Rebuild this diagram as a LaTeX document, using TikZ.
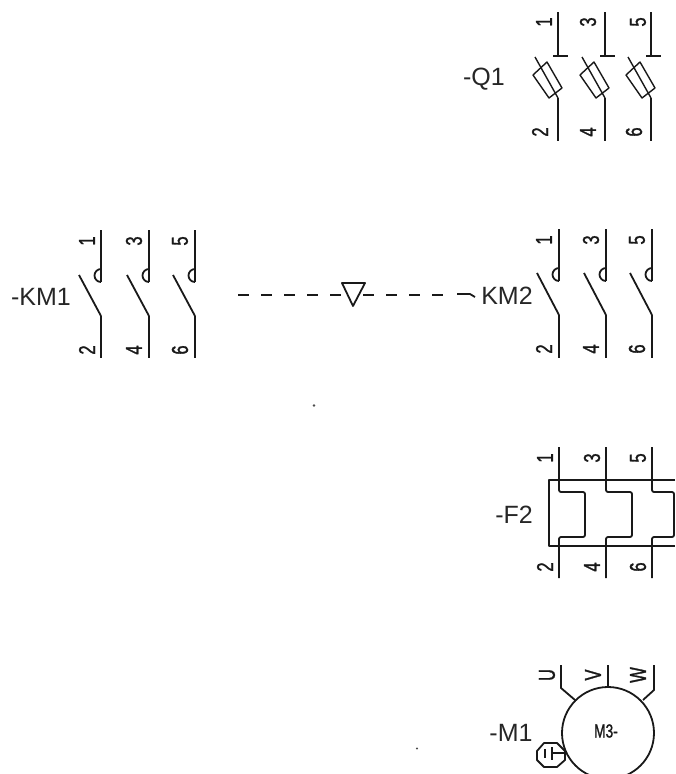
\documentclass[tikz,border=0pt]{standalone}
\usepackage{fontspec}
\setmainfont{Liberation Sans}
\newfontfamily\digitfont[FakeStretch=0.72,FakeBold=1.2]{Liberation Sans}
\tikzset{
  wire/.style={line width=1.8pt,black!90,line join=round},
  thin wire/.style={line width=1.4pt,black!90,line join=round},
  lab/.style={inner sep=0pt,font=\fontsize{25}{25}\selectfont,black!85},
  dig/.style={inner sep=0pt,rotate=90,font=\digitfont\fontsize{23}{23}\selectfont,black!90},
}
\begin{document}
\begin{tikzpicture}[x=1pt,y=-1pt]
\useasboundingbox (0,0) rectangle (675,774);
% Q1
\node[lab] (q1) at (484,79) {-Q1};
\foreach \n/\x/\t/\b/\tx/\bx in {a/558/1/2/544/540,b/605/3/4/588/588,c/651/5/6/638/634}{
  \node[dig] (q1t\n) at (\tx,22) {\t};
  \node[dig] (q1b\n) at (\bx,132) {\b};
  \draw[wire] (\x,12) -- (\x,56);
  \draw[wire] (\x-5,56) -- (\x+10,56);
  \draw[wire] (\x,98) -- (\x,141);
  \begin{scope}[xshift=\x pt-558pt]
    \draw[thin wire] (533,75) -- (547,62) -- (562,88) -- (549,98) -- cycle;
    \draw[thin wire] (535,57) -- (558,98);
  \end{scope}
}
% KM1
\node[lab] (km1) at (41,297) {-KM1};
\foreach \n/\x/\t/\b/\tx in {a/101/1/2/87,b/149/3/4/134,c/195/5/6/180}{
  \node[dig] (km1t\n) at (\tx,241) {\t};
  \node[dig] (km1b\n) at (\tx,350) {\b};
  \draw[wire] (\x,230) -- (\x,282);
  \draw[wire] (\x,269) arc[start angle=90,end angle=270,radius=6.5pt] -- (\x,282);
  \draw[wire] (\x,316) -- (\x,358);
  \draw[wire] (\x-22,275) -- (\x,316);
}
% KM2
\node[lab] (km2) at (507,296) {KM2};
\foreach \n/\x/\t/\b/\tx in {a/559/1/2/544,b/606/3/4/591,c/652/5/6/637}{
  \node[dig] (km2t\n) at (\tx,240) {\t};
  \node[dig] (km2b\n) at (\tx,349) {\b};
  \draw[wire] (\x,229) -- (\x,281);
  \draw[wire] (\x,268) arc[start angle=90,end angle=270,radius=6.5pt] -- (\x,281);
  \draw[wire] (\x,315) -- (\x,358);
  \draw[wire] (\x-22,273) -- (\x,315);
}
% mechanical link
\draw[wire,dash pattern=on 11pt off 12pt] (238,295) -- (342,295);
\draw[wire,dash pattern=on 11pt off 12pt] (363,295) -- (444,295);
\draw[wire] (457,294) -- (470,294) -- (475,297);
\draw[wire] (342,283) -- (365,283) -- (353,306) -- cycle;
\fill[black!70] (314,405.5) circle[radius=1.3pt];
% F2
\node[lab] (f2) at (514,515) {-F2};
\draw[wire] (675,480) -- (549,480) -- (549,546) -- (675,546);
\foreach \n/\x/\r/\t/\b/\tx in {a/559/585/1/2/545,b/606/632/3/4/592,c/652/674/5/6/638}{
  \node[dig] (f2t\n) at (\tx,458) {\t};
  \node[dig] (f2b\n) at (\tx,567) {\b};
  \draw[wire,rounded corners=2pt] (\x,447) -- (\x,492) -- (\r,492) -- (\r,537) -- (\x,537) -- (\x,578);
}
% M1
\node[lab] (m1) at (511,733) {-M1};
\draw[wire] (608,733) circle[radius=46pt];
\node[inner sep=0pt,font=\digitfont\fontsize{19}{19}\selectfont,black!90] (m3) at (606,731) {M3-};
\node[dig] (mu) at (547,675) {U};
\node[dig] (mv) at (593,675) {V};
\node[dig] (mw) at (638,675) {W};
\draw[wire] (561,665) -- (561,688) -- (575,700);
\draw[wire] (608,665) -- (608,687);
\draw[wire] (654,665) -- (654,690) -- (643,700);
\fill[black!70] (417,748.5) circle[radius=1.2pt];
% earth terminal
\draw[wire] (544,743) -- (557,743) -- (565,751) -- (565,760) -- (557,767) -- (544,767) -- (537,760) -- (537,751) -- cycle;
\draw[thin wire] (552,753) -- (566,753);
\draw[thin wire] (552,747) -- (552,760);
\draw[thin wire] (545,749) -- (545,758);
\end{tikzpicture}
\end{document}
